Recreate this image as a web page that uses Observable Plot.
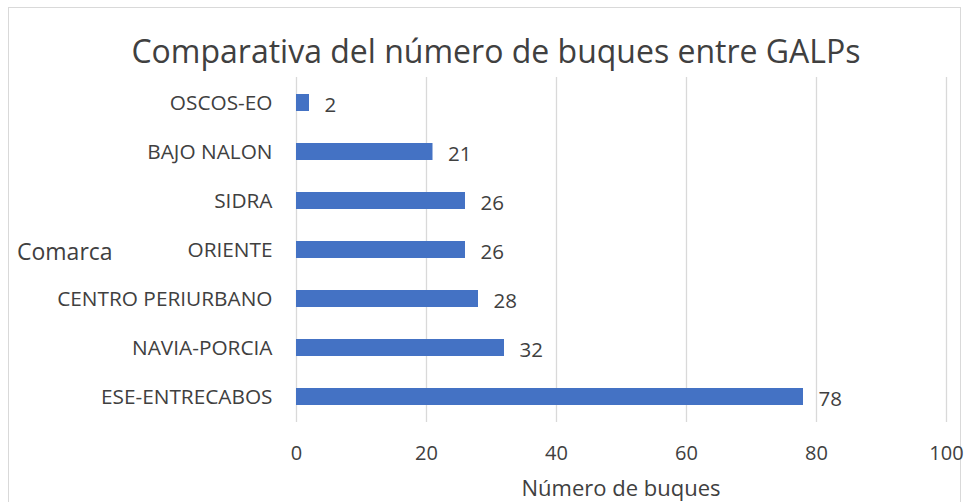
<!DOCTYPE html>
<html>
<head>
<meta charset="utf-8">
<script src="https://cdn.jsdelivr.net/npm/d3@7"></script>
<script src="https://cdn.jsdelivr.net/npm/@observablehq/plot@0.6"></script>
<style>
  html, body { margin: 0; padding: 0; background: #fff; overflow: hidden; }
  #wrap { position: relative; width: 972px; height: 502px; font-family: "Open Sans", sans-serif; color: #404040; }
  #border { position: absolute; left: 8px; top: 7px; width: 953px; height: 520px; border: 1px solid #d9d9d9; box-sizing: border-box; }
  #title { position: absolute; left: 0; width: 992px; top: 31px; text-align: center; font-size: 32px; line-height: 40px; color: #404040; }
  #chart { position: absolute; left: 0; top: 0; }
  #ylab { position: absolute; left: 17px; top: 236px; font-size: 23px; line-height: 30px; color: #404040; }
  #xlab { position: absolute; left: 421px; width: 400px; top: 472px; text-align: center; font-size: 22px; line-height: 30px; color: #404040; }
</style>
</head>
<body>
<div id="wrap">
  <div id="border"></div>
  <div id="chart"></div>
  <div id="title">Comparativa del número de buques entre GALPs</div>
  <div id="ylab">Comarca</div>
  <div id="xlab">Número de buques</div>
</div>
<script>
const comarcas = ["OSCOS-EO", "BAJO NALON", "SIDRA", "ORIENTE", "CENTRO PERIURBANO", "NAVIA-PORCIA", "ESE-ENTRECABOS"];
const buques = [2, 21, 26, 26, 28, 32, 78];
const xTicks = [0, 20, 40, 60, 80, 100];

const data = comarcas.map((c, i) => ({comarca: c, buques: buques[i]}));

const chart = Plot.plot({
  width: 972,
  height: 502,
  marginLeft: 296,
  marginRight: 26,
  marginTop: 77,
  marginBottom: 80,
  style: {fontFamily: "Open Sans, sans-serif", fontSize: "20px", color: "#404040", background: "transparent"},
  x: {domain: [0, 100], label: null},
  y: {domain: comarcas, paddingInner: 0.655, paddingOuter: 0.3275, label: null},
  marks: [
    Plot.ruleX(xTicks, {stroke: "#d9d9d9", strokeWidth: 1.3, strokeOpacity: 1}),
    Plot.axisX({ticks: xTicks, tickSize: 0, tickPadding: 23, fontSize: 20, fill: "#404040", label: null}),
    Plot.axisY({tickSize: 0, tickPadding: 24, fontSize: 20.8, fill: "#404040", label: null}),
    Plot.barX(data, {x: "buques", y: "comarca", fill: "#4472C4"}),
    Plot.text(data, {x: "buques", y: "comarca", text: d => String(d.buques), textAnchor: "start", dx: 15, dy: 2, fill: "#404040", fontSize: 20.5})
  ]
});
document.getElementById("chart").appendChild(chart);
</script>
</body>
</html>
